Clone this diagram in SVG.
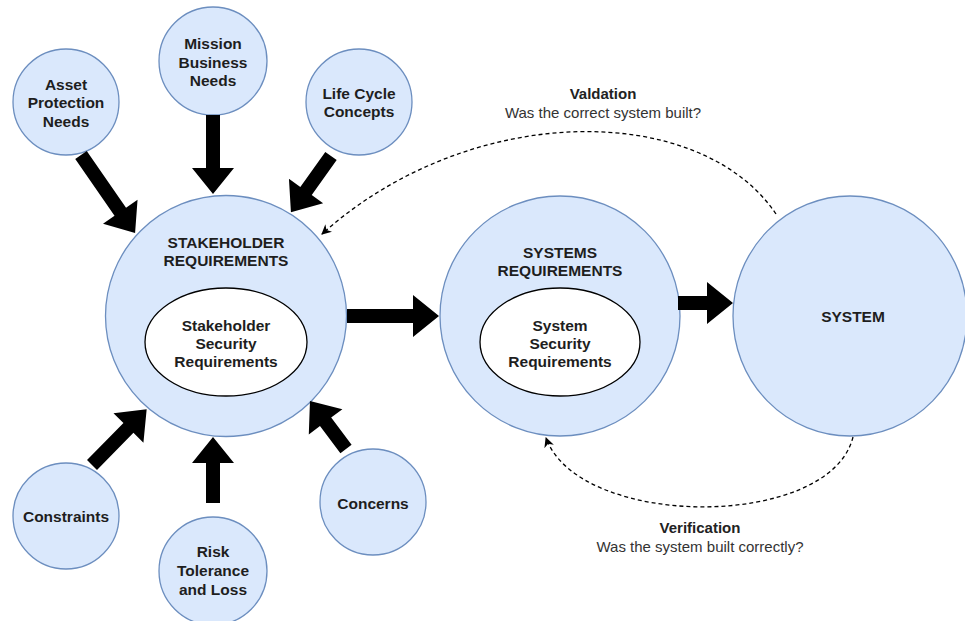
<svg xmlns="http://www.w3.org/2000/svg" width="965" height="621" viewBox="0 0 965 621">
<defs>
<style>
.c{fill:#dae8fc;stroke:#6c8ebf;stroke-width:1.3}
.e{fill:#ffffff;stroke:#000000;stroke-width:1.3}
.t{font-family:"Liberation Sans",Arial,sans-serif;font-size:15.5px;font-weight:bold;fill:#1e1e1e;text-anchor:middle;dominant-baseline:central}
.lb{font-family:"Liberation Sans",Arial,sans-serif;font-size:15px;font-weight:bold;fill:#222;text-anchor:middle;dominant-baseline:central}
.lr{font-family:"Liberation Sans",Arial,sans-serif;font-size:15px;fill:#333;text-anchor:middle;dominant-baseline:central}
.fa{fill:#000000;stroke:none}
.d{fill:none;stroke:#000000;stroke-width:1.3;stroke-dasharray:4 3}
</style>
<marker id="ah" viewBox="0 0 10 10" refX="9" refY="5" markerWidth="10" markerHeight="10" markerUnits="userSpaceOnUse" orient="auto">
<path d="M0,0 L10,5 L0,10 L3,5 Z" fill="#000"/>
</marker>
</defs>
<rect width="965" height="621" fill="#ffffff"/>

<g id="stakeholder">
<circle class="c" cx="226" cy="316" r="120.5"/>
<text class="t" x="226" y="242">STAKEHOLDER</text>
<text class="t" x="226" y="260">REQUIREMENTS</text>
<ellipse class="e" cx="226" cy="342" rx="81" ry="54"/>
<text class="t" x="226" y="325">Stakeholder</text>
<text class="t" x="226" y="343">Security</text>
<text class="t" x="226" y="361">Requirements</text>
</g>

<g id="systems">
<circle class="c" cx="560" cy="316" r="120"/>
<text class="t" x="560" y="252">SYSTEMS</text>
<text class="t" x="560" y="270">REQUIREMENTS</text>
<ellipse class="e" cx="560" cy="342" rx="80" ry="54"/>
<text class="t" x="560" y="325">System</text>
<text class="t" x="560" y="343">Security</text>
<text class="t" x="560" y="361">Requirements</text>
</g>

<g id="system">
<ellipse class="c" cx="850" cy="316" rx="117" ry="120"/>
<text class="t" x="853" y="316">SYSTEM</text>
</g>

<g id="asset">
<circle class="c" cx="66" cy="102" r="53"/>
<text class="t" x="66" y="84">Asset</text>
<text class="t" x="66" y="102">Protection</text>
<text class="t" x="66" y="121">Needs</text>
</g>

<g id="mission">
<circle class="c" cx="213" cy="61" r="54"/>
<text class="t" x="213" y="43">Mission</text>
<text class="t" x="213" y="62">Business</text>
<text class="t" x="213" y="80">Needs</text>
</g>

<g id="lifecycle">
<circle class="c" cx="359" cy="102" r="53"/>
<text class="t" x="359" y="93">Life Cycle</text>
<text class="t" x="359" y="111">Concepts</text>
</g>

<g id="constraints">
<circle class="c" cx="66" cy="516" r="53"/>
<text class="t" x="66" y="516">Constraints</text>
</g>

<g id="risk">
<circle class="c" cx="213" cy="571" r="54"/>
<text class="t" x="213" y="551">Risk</text>
<text class="t" x="213" y="570">Tolerance</text>
<text class="t" x="213" y="589">and Loss</text>
</g>

<g id="concerns">
<circle class="c" cx="373" cy="502" r="53"/>
<text class="t" x="373" y="503">Concerns</text>
</g>

<g id="connectors">
<path class="fa" transform="translate(81,155) rotate(55.3)" d="M0,-7 L69,-7 L69,-21 L95,0 L69,21 L69,7 L0,7 Z"/>
<path class="fa" transform="translate(213,115) rotate(90)" d="M0,-7 L53,-7 L53,-21 L79,0 L53,21 L53,7 L0,7 Z"/>
<path class="fa" transform="translate(331,156) rotate(125.5)" d="M0,-7 L43,-7 L43,-21 L69,0 L43,21 L43,7 L0,7 Z"/>
<path class="fa" transform="translate(347,316) rotate(0)" d="M0,-7 L66,-7 L66,-21 L92,0 L66,21 L66,7 L0,7 Z"/>
<path class="fa" transform="translate(678,303) rotate(0)" d="M0,-7 L29,-7 L29,-21 L55,0 L29,21 L29,7 L0,7 Z"/>
<path class="fa" transform="translate(92,465) rotate(-45.5)" d="M0,-7 L52,-7 L52,-21 L78,0 L52,21 L52,7 L0,7 Z"/>
<path class="fa" transform="translate(213,503) rotate(-90)" d="M0,-7 L40,-7 L40,-21 L66,0 L40,21 L40,7 L0,7 Z"/>
<path class="fa" transform="translate(346,449) rotate(-126.9)" d="M0,-7 L34,-7 L34,-21 L60,0 L34,21 L34,7 L0,7 Z"/>
<path class="d" d="M776,214 C700,101 470,101 322,234" marker-end="url(#ah)"/>
<path class="d" d="M853,437 C830,530 580,530 546,438" marker-end="url(#ah)"/>
</g>

<g id="labels">
<text class="lb" x="603" y="93">Valdation</text>
<text class="lr" x="603" y="112">Was the correct system built?</text>
<text class="lb" x="700" y="527">Verification</text>
<text class="lr" x="700" y="546">Was the system built correctly?</text>
</g>
</svg>
